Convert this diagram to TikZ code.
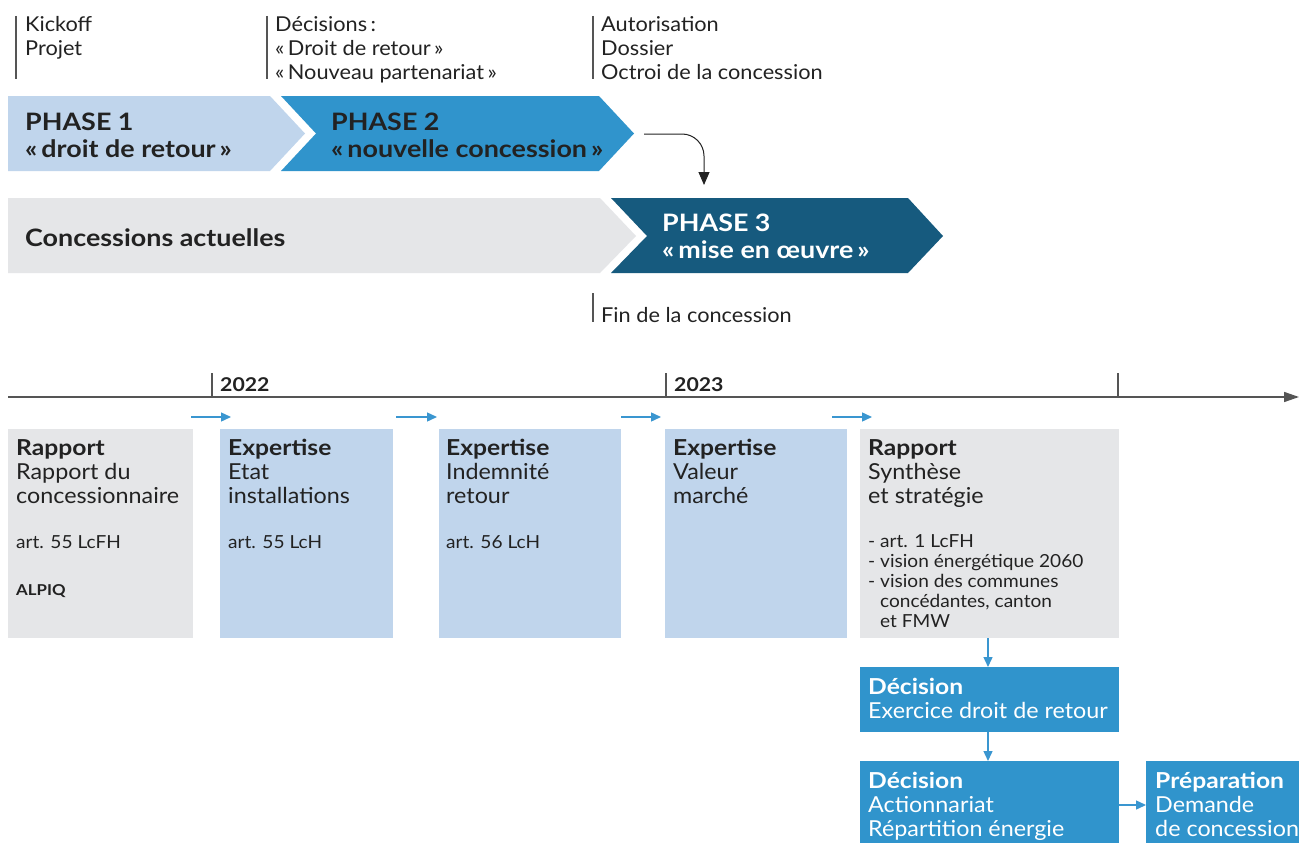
\documentclass[tikz,border=0pt]{standalone}
\usepackage{fontspec}
\setmainfont{Lato}[FakeStretch=1.06]
\newfontfamily\bfam{Lato}[FakeStretch=1.12]
\newcommand{\bx}[1]{{\bfam\bfseries #1}}
\usetikzlibrary{arrows.meta}
\definecolor{lblue}{HTML}{C0D5EC}
\definecolor{mblue}{HTML}{3094CC}
\definecolor{dblue}{HTML}{165A7E}
\definecolor{lgray}{HTML}{E5E6E8}
\definecolor{txt}{HTML}{222222}
\definecolor{ablue}{HTML}{3A96D0}
\definecolor{tick}{HTML}{555555}
\begin{document}
\begin{tikzpicture}[x=1pt,y=-1pt,
  lbl/.style={anchor=base west, inner sep=0pt, align=left, text=txt, font=\fontsize{20.5}{24}\selectfont},
  phasetxt/.style={anchor=base west, inner sep=0pt, align=left, text=txt, font=\bfam\bfseries\fontsize{24}{27}\selectfont},
  boxtxt/.style={anchor=base west, inner sep=0pt, align=left, text=txt, font=\fontsize{22}{24}\selectfont},
  smalltxt/.style={anchor=base west, inner sep=0pt, align=left, text=txt, font=\fontsize{18}{19.8}\selectfont},
  box/.style={anchor=north west, inner sep=0pt, draw=none},
  tickline/.style={draw=tick, line width=1.1pt},
  bluearrow/.style={draw=ablue, line width=1.4pt, -{Triangle[length=10pt,width=9pt]}},
]
\clip (0,0) rectangle (1299,843);
\fill[white] (0,0) rectangle (1299,843);

% top milestone labels
\draw[tickline] (16,16) -- (16,79);
\node[lbl] (kick) at (25,56) {Kickoff\\Projet};
\draw[tickline] (267,16) -- (267,79);
\node[lbl] (dec) at (275,80) {Décisions\,:\\«\,Droit de retour\,»\\«\,Nouveau partenariat\,»};
\draw[tickline] (593,16) -- (593,79);
\node[lbl] (aut) at (601,80) {Autorisation\\Dossier\\Octroi de la concession};

% phases
\fill[lblue] (8,96) -- (270,96) -- (305,133.5) -- (270,171) -- (8,171) -- cycle;
\fill[mblue] (281,96) -- (599,96) -- (634,133.5) -- (599,171) -- (281,171) -- (316,133.5) -- cycle;
\fill[lgray] (8,198) -- (600,198) -- (636,236) -- (600,273) -- (8,273) -- cycle;
\fill[dblue] (611,198) -- (908,198) -- (943,236) -- (908,273) -- (611,273) -- (647,236) -- cycle;
\node[phasetxt] (p1) at (25,157) {PHASE 1\\«\,droit de retour\,»};
\node[phasetxt] (p2) at (331,157) {PHASE 2\\«\,nouvelle concession\,»};
\node[phasetxt] (ca) at (25,246) {Concessions actuelles};
\node[phasetxt, text=white] (p3) at (662,258) {PHASE 3\\«\,mise en œuvre\,»};

\coordinate (cs) at (644,134);
\coordinate (ce) at (704,185);
\draw[line width=1pt, draw=txt, rounded corners=22pt, -{Triangle[length=13pt,width=11pt]}] (cs) -| (ce);

\draw[tickline] (593,293) -- (593,322);
\node[lbl] (fin) at (601,322) {Fin de la concession};

% timeline
\coordinate (ta) at (8,397);
\coordinate (tb) at (1299,397);
\draw[draw=tick, line width=1.5pt, -{Triangle[length=15pt,width=10pt]}] (ta) -- (tb);
\draw[tickline] (212,373) -- (212,397);
\draw[tickline] (666,373) -- (666,397);
\draw[tickline] (1118,373) -- (1118,397);
\node[anchor=base west, inner sep=0pt, text=txt, font=\bfam\bfseries\fontsize{19}{24}\selectfont] (y22) at (220,391) {2022};
\node[anchor=base west, inner sep=0pt, text=txt, font=\bfam\bfseries\fontsize{19}{24}\selectfont] (y23) at (674,391) {2023};

% small arrows
\coordinate (a1s) at (191,417); \coordinate (a1e) at (231,417);
\coordinate (a2s) at (396,417); \coordinate (a2e) at (437,417);
\coordinate (a3s) at (621,417); \coordinate (a3e) at (661,417);
\coordinate (a4s) at (832,417); \coordinate (a4e) at (872,417);
\draw[bluearrow] (a1s) -- (a1e);
\draw[bluearrow] (a2s) -- (a2e);
\draw[bluearrow] (a3s) -- (a3e);
\draw[bluearrow] (a4s) -- (a4e);

% boxes
\node[box, fill=lgray, minimum width=185pt, minimum height=209pt] (b1) at (8,429) {};
\node[box, fill=lblue, minimum width=173pt, minimum height=209pt] (b2) at (220,429) {};
\node[box, fill=lblue, minimum width=182pt, minimum height=209pt] (b3) at (439,429) {};
\node[box, fill=lblue, minimum width=182pt, minimum height=209pt] (b4) at (665,429) {};
\node[box, fill=lgray, minimum width=259pt, minimum height=209pt] (b5) at (860,429) {};

\node[boxtxt] (t1) at (16,503) {\bx{Rapport}\\Rapport du\\concessionnaire};
\node[smalltxt] (t1a) at (16,548) {art. 55 LcFH};
\node[anchor=base west, inner sep=0pt, text=txt, font=\bfam\bfseries\fontsize{15}{17}\selectfont] (t1b) at (16,595) {ALPIQ};

\node[boxtxt] (t2) at (228,503) {\bx{Expertise}\\Etat\\installations};
\node[smalltxt] (t2a) at (228,548) {art. 55 LcH};

\node[boxtxt] (t3) at (446,503) {\bx{Expertise}\\Indemnité\\retour};
\node[smalltxt] (t3a) at (446,548) {art. 56 LcH};

\node[boxtxt] (t4) at (673,503) {\bx{Expertise}\\Valeur\\marché};

\node[boxtxt] (t5) at (868,503) {\bx{Rapport}\\Synthèse\\et stratégie};
\node[smalltxt] (t5a) at (868,627) {- art. 1 LcFH\\- vision énergétique 2060\\- vision des communes\\\hphantom{- }concédantes, canton\\\hphantom{- }et FMW};

% decisions
\node[box, fill=mblue, minimum width=259pt, minimum height=65pt] (d1) at (860,667) {};
\node[box, fill=mblue, minimum width=259pt, minimum height=90pt] (d2) at (860,761) {};
\node[box, fill=mblue, minimum width=160pt, minimum height=90pt] (d3) at (1146,761) {};
\node[boxtxt, text=white] (d1t) at (868,718) {\bx{Décision}\\Exercice droit de retour};
\node[boxtxt, text=white] (d2t) at (868,836) {\bx{Décision}\\Actionnariat\\Répartition énergie};
\node[boxtxt, text=white] (d3t) at (1155,836) {\bx{Préparation}\\Demande\\de concession};

\draw[bluearrow] (b5.south -| 988,0) -- (d1.north -| 988,0);
\draw[bluearrow] (d1.south -| 988,0) -- (d2.north -| 988,0);
\draw[bluearrow] (d2.east |- 0,805) -- (d3.west |- 0,805);
\end{tikzpicture}
\end{document}
